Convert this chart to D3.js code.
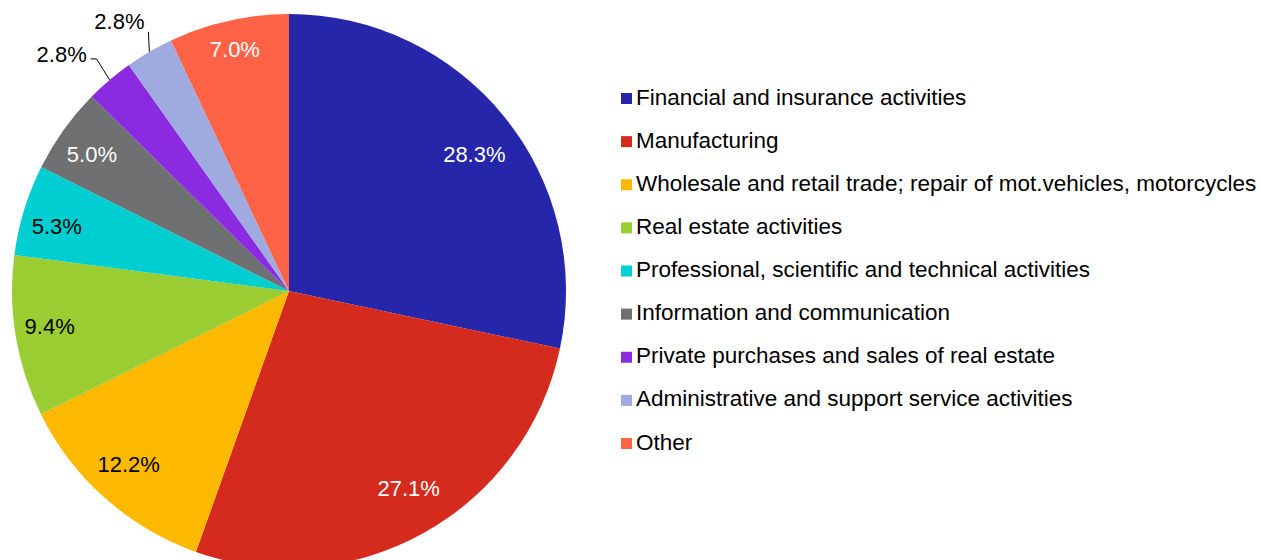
<!DOCTYPE html>
<html>
<head>
<meta charset="utf-8">
<script src="https://cdn.jsdelivr.net/npm/d3@7"></script>
<style>
  html, body { margin: 0; padding: 0; background: #fff; }
  svg { display: block; font-family: "Liberation Sans", Arial, sans-serif; }
</style>
</head>
<body>
<svg id="chart" width="1261" height="560"></svg>
<script>
const categories = [
  "Financial and insurance activities",
  "Manufacturing",
  "Wholesale and retail trade; repair of mot.vehicles, motorcycles",
  "Real estate activities",
  "Professional, scientific and technical activities",
  "Information and communication",
  "Private purchases and sales of real estate",
  "Administrative and support service activities",
  "Other"
];
const values = [28.3, 27.1, 12.2, 9.4, 5.3, 5.0, 2.8, 2.8, 7.0];
const colors = ["#2526A9", "#D52B1E", "#FDB900", "#9ACD32", "#00CED1", "#6F7071", "#8A2BE2", "#9FAADF", "#FF6347"];
const labelColors = ["#fff", "#fff", "#000", "#000", "#000", "#fff", "#000", "#000", "#fff"];

const svg = d3.select("#chart");
const cx = 289, cy = 291, R = 277;

// label placement (radius, angular nudge in degrees) — layout only
const labelLayout = [
  {r: 230, da: 2.7}, {r: 231, da: -2}, {r: 236, da: 1.2}, {r: 242, da: 1},
  {r: 241, da: -1.5}, {r: 240, da: -0.8}, null, null, {r: 248, da: 0}
];

const pie = d3.pie().sort(null).value(d => d)(values);
const arc = d3.arc().innerRadius(0).outerRadius(R);
const edgeArc = d3.arc().innerRadius(R).outerRadius(R);

const g = svg.append("g").attr("transform", `translate(${cx},${cy})`);
g.selectAll("path.slice").data(pie).join("path")
  .attr("class", "slice")
  .attr("d", arc)
  .attr("fill", (d, i) => colors[i]);

const fmt = v => v.toFixed(1) + "%";
const labelFont = 22;
const legendFont = 22.5;

// inside labels
pie.forEach((d, i) => {
  const L = labelLayout[i];
  if (!L) return;
  const a = (d.startAngle + d.endAngle) / 2 + L.da * Math.PI / 180;
  const x = L.r * Math.sin(a), y = -L.r * Math.cos(a);
  g.append("text")
    .attr("x", x).attr("y", y)
    .attr("text-anchor", "middle")
    .attr("dominant-baseline", "central")
    .attr("font-size", labelFont)
    .attr("fill", labelColors[i])
    .text(fmt(values[i]));
});

// outside labels with leader lines for small slices
const outside = {6: {elbow: [-13, -21], tip: [-6, 0], text: [-29, -4]}, 7: {elbow: [-1, -20], tip: [0, 0], text: [-29, -10]}};
pie.forEach((d, i) => {
  if (labelLayout[i]) return;
  const [ex, ey] = edgeArc.centroid(d);
  const o = outside[i];
  const p1 = [ex + o.elbow[0], ey + o.elbow[1]];
  const p2 = [p1[0] + o.tip[0], p1[1] + o.tip[1]];
  g.append("polyline")
    .attr("points", [[ex, ey], p1, p2].map(p => p.join(",")).join(" "))
    .attr("fill", "none")
    .attr("stroke", "#000")
    .attr("stroke-width", 1);
  g.append("text")
    .attr("x", p2[0] + o.text[0]).attr("y", p2[1] + o.text[1])
    .attr("text-anchor", "middle")
    .attr("dominant-baseline", "central")
    .attr("font-size", labelFont)
    .attr("fill", "#000")
    .text(fmt(values[i]));
});

// legend
const ly = d3.scalePoint().domain(categories).range([97, 442]);
const leg = svg.append("g");
categories.forEach((c, i) => {
  const y = ly(c);
  leg.append("rect")
    .attr("x", 621).attr("y", y - 4)
    .attr("width", 11).attr("height", 11)
    .attr("fill", colors[i]);
  leg.append("text")
    .attr("x", 636).attr("y", y)
    .attr("dominant-baseline", "central")
    .attr("font-size", legendFont)
    .attr("fill", "#000")
    .text(c);
});
</script>
</body>
</html>
